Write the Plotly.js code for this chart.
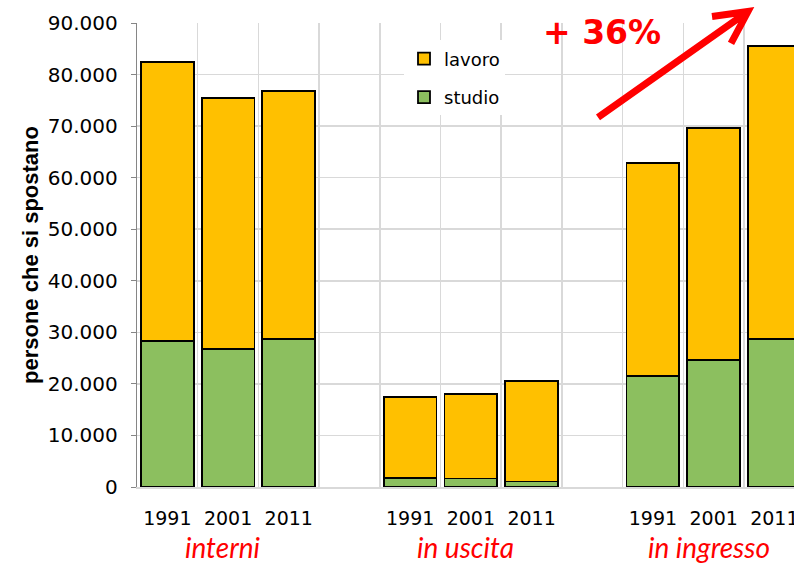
<!DOCTYPE html>
<html>
<head>
<meta charset="utf-8">
<script src="https://cdn.plot.ly/plotly-3.0.1.min.js"></script>
<style>html,body{margin:0;padding:0;background:#fff;overflow:hidden}#chart{width:794px;height:565px}</style>
</head>
<body>
<div id="chart"></div>
<script>
// ---- data ----
var groups = ["interni", "in uscita", "in ingresso"];
var years = ["1991", "2001", "2011"];
var studio = [
  28300, 26800, 28700,   // interni
  1800, 1650, 1050,      // in uscita
  21500, 24700, 28700    // in ingresso
];
var lavoro = [
  54200, 48600, 48100,
  15700, 16350, 19550,
  41400, 45000, 56800
];
var growthLabel = "+ 36%";

// ---- layout helpers ----
var slot = years.length + 1;
var xs = [], tickText = [];
groups.forEach(function (g, gi) {
  years.forEach(function (y, yi) { xs.push(gi * slot + yi); tickText.push(y); });
});
var bounds = [];
for (var k = 0; k <= groups.length * slot; k++) bounds.push(k - 0.5);

var W = 794, H = 565, L = 137, R = 0, T = 22.5, B = 77.5;
var pw = W - L - R, ph = H - T - B;
function px(x) { return (x - L) / pw; }
function py(y) { return (H - B - y) / ph; }

var traces = [
  { type: "bar", name: "studio", x: xs, y: studio, legendgroup: "b", legendrank: 2,
    marker: { color: "#8CBF5F", line: { color: "#000", width: 1.8 } }, width: 0.87 },
  { type: "bar", name: "lavoro", x: xs, y: lavoro, legendgroup: "a", legendrank: 1,
    marker: { color: "#FFC000", line: { color: "#000", width: 1.8 } }, width: 0.87 }
];

var annotations = groups.map(function (g, gi) {
  return { x: gi * slot + 1, xref: "x", y: py(548), yref: "paper", text: g, showarrow: false,
    xanchor: "center", yanchor: "middle", xshift: -5,
    font: { family: "Lato", size: 28, color: "#FF0000", style: "italic" } };
});
annotations.push({ x: px(602), y: py(32), xref: "paper", yref: "paper", text: "<b>" + growthLabel + "</b>",
  xanchor: "center", yanchor: "middle", showarrow: false,
  font: { family: "DejaVu Sans", size: 33, color: "#FF0000" } });

var shapes = [{
  type: "path", xref: "paper", yref: "paper",
  path: "M" + px(598) + "," + py(117) + " L" + px(745) + "," + py(13) +
        " M" + px(712) + "," + py(16) + " L" + px(748) + "," + py(11) + " L" + px(731) + "," + py(43),
  line: { color: "#FF0000", width: 7 }
}];

var layout = {
  width: W, height: H,
  margin: { l: L, r: R, t: T, b: B, pad: 0 },
  paper_bgcolor: "#fff", plot_bgcolor: "#fff",
  barmode: "stack",
  separators: ",.",
  showlegend: true,
  legend: { x: px(404), y: py(40), xanchor: "left", yanchor: "top", bgcolor: "#fff",
    traceorder: "grouped", tracegroupgap: 12,
    font: { family: "DejaVu Sans", size: 18, color: "#000" } },
  xaxis: {
    range: [-0.5, -0.5 + pw / 60.7],
    tickmode: "array", tickvals: xs, ticktext: tickText,
    showgrid: false, zeroline: false,
    showline: true, linecolor: "#d9d9d9", linewidth: 1.5,
    ticks: "outside", ticklen: 14, tickcolor: "rgba(0,0,0,0)",
    ticklabeloverflow: "allow",
    tickfont: { family: "DejaVu Sans", size: 19, color: "#000" },
    minor: { tickmode: "array", tickvals: bounds, showgrid: true, gridcolor: "#d9d9d9", gridwidth: 1.5, ticks: "" }
  },
  yaxis: {
    range: [0, 90000], dtick: 10000, tickformat: ",d",
    showgrid: true, gridcolor: "#d9d9d9", gridwidth: 1.5, zeroline: false,
    showline: true, linecolor: "#868686", linewidth: 1.2,
    ticks: "outside", ticklen: 5, tickcolor: "#868686", ticklabelstandoff: 9,
    tickfont: { family: "DejaVu Sans", size: 20, color: "#000" },
    title: { text: "<b>persone che si spostano</b>", standoff: 3,
      font: { family: "Liberation Sans", size: 22, color: "#000" } }
  },
  annotations: annotations,
  shapes: shapes
};

Plotly.newPlot("chart", traces, layout, { displayModeBar: false, staticPlot: true });
</script>
</body>
</html>
